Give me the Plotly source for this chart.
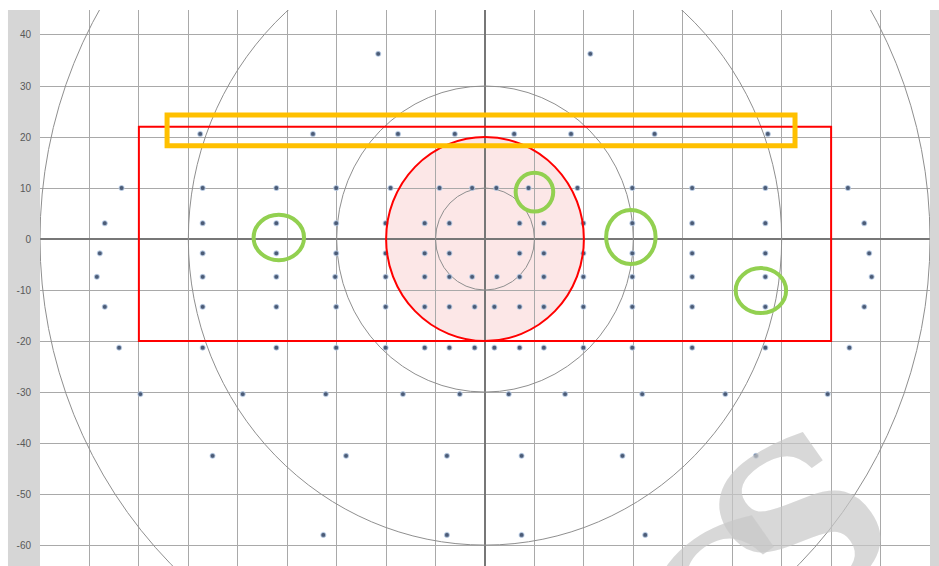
import plotly.graph_objects as go

# Test-point rows: each row's vertical position and the horizontal positions of its points
row_y = [36.3, 20.6, 10.0, 3.1, -2.8, -7.4, -13.3, -21.3, -30.4, -42.5, -58.0]
row_x = [
    [-21.6, 21.3],
    [-57.6, -34.8, -17.6, -6.1, 5.9, 17.4, 34.3, 57.2],
    [-73.5, -57.1, -42.2, -30.1, -19.1, -9.2, -2.6, 2.3, 8.8, 18.7, 29.8, 41.9, 56.7, 73.4],
    [-76.9, -57.1, -42.2, -30.1, -20.1, -12.2, -7.2, 7.0, 11.9, 19.9, 29.8, 41.9, 56.7, 76.7],
    [-77.9, -57.1, -42.2, -30.1, -20.1, -12.2, -7.2, 7.0, 11.9, 19.9, 29.8, 41.9, 56.7, 77.7],
    [-78.5, -57.1, -42.2, -30.3, -20.1, -12.2, -7.2, -2.6, 2.4, 7.0, 11.9, 19.9, 29.8, 41.9, 56.7, 78.2],
    [-76.9, -57.1, -42.2, -30.1, -20.1, -12.2, -7.2, -2.1, 1.9, 7.0, 11.9, 19.9, 29.8, 41.9, 56.7, 76.7],
    [-74.0, -57.1, -42.2, -30.1, -20.1, -12.2, -7.2, -2.1, 1.9, 7.0, 11.9, 19.9, 29.8, 41.9, 56.7, 73.7],
    [-69.7, -49.0, -32.2, -16.6, -5.1, 4.8, 16.2, 31.8, 48.6, 69.3],
    [-55.1, -28.1, -7.7, 7.4, 27.8, 54.8],
    [-32.7, -7.7, 7.4, 32.4],
]

# Concentric eccentricity rings (degrees)
ring_radii = [10, 30, 60, 90]
# Central highlighted zone radius
central_radius = 20
# Tested rectangle [x0, x1, y0, y1]
test_box = [-70, 70, -20, 22]
# Upper band [x0, x1, y0, y1]
upper_band = [-64.3, 62.7, 18.3, 24.3]
# Marked points: centre x, centre y, half-width, half-height
marks_cx = [-41.7, 10.0, 29.5, 55.8]
marks_cy = [0.3, 9.2, 0.4, -10.1]
marks_rx = [5.1, 3.8, 5.0, 5.1]
marks_ry = [4.45, 3.8, 5.3, 4.4]

y_ticks = [-60, -50, -40, -30, -20, -10, 0, 10, 20, 30, 40]

xs, ys = [], []
for yv, xl in zip(row_y, row_x):
    xs.extend(xl)
    ys.extend([yv] * len(xl))

fig = go.Figure()
fig.add_trace(go.Scatter(
    x=xs, y=ys, mode="markers",
    marker=dict(size=5, color="#4b5b76",
                line=dict(width=1.2, color="rgba(190,210,235,0.7)")),
    hoverinfo="skip", showlegend=False,
))

shapes = []
# grey side strips
shapes.append(dict(type="rect", xref="paper", yref="paper", x0=-0.036, x1=0, y0=0, y1=1,
                   fillcolor="#d6d6d6", line=dict(width=0), layer="below"))
shapes.append(dict(type="rect", xref="paper", yref="paper", x0=1, x1=1.012, y0=0, y1=1,
                   fillcolor="#d6d6d6", line=dict(width=0), layer="below"))
# pink central zone (under the grid)
shapes.append(dict(type="circle", xref="x", yref="y",
                   x0=-central_radius, x1=central_radius, y0=-central_radius, y1=central_radius,
                   fillcolor="rgba(250,215,215,0.6)", line=dict(width=0), layer="below"))
# rings
for r in ring_radii:
    shapes.append(dict(type="circle", xref="x", yref="y", x0=-r, x1=r, y0=-r, y1=r,
                       line=dict(color="#8f8f8f", width=1), layer="between"))
# red outline of central zone
shapes.append(dict(type="circle", xref="x", yref="y",
                   x0=-central_radius, x1=central_radius, y0=-central_radius, y1=central_radius,
                   line=dict(color="#ff0000", width=2), layer="above"))
# red test rectangle
shapes.append(dict(type="rect", xref="x", yref="y",
                   x0=test_box[0], x1=test_box[1], y0=test_box[2], y1=test_box[3],
                   line=dict(color="#ff0000", width=2), layer="above"))
# orange band
shapes.append(dict(type="rect", xref="x", yref="y",
                   x0=upper_band[0], x1=upper_band[1], y0=upper_band[2], y1=upper_band[3],
                   line=dict(color="#ffc000", width=5), layer="above"))
# green marks
for cx, cy, rx, ry in zip(marks_cx, marks_cy, marks_rx, marks_ry):
    shapes.append(dict(type="circle", xref="x", yref="y",
                       x0=cx - rx, x1=cx + rx, y0=cy - ry, y1=cy + ry,
                       line=dict(color="#92d050", width=4), layer="above"))

wm_font = dict(family="DejaVu Serif", size=215, color="rgba(200,200,200,0.7)", weight="bold")
fig.update_layout(
    width=939, height=566,
    margin=dict(l=40, r=9, t=10, b=0),
    paper_bgcolor="white", plot_bgcolor="white",
    shapes=shapes,
    annotations=[
        dict(text="S", xref="paper", yref="paper", x=0.855, y=0.075,
             xanchor="center", yanchor="middle", showarrow=False, textangle=-35,
             font=wm_font),
        dict(text="C", xref="paper", yref="paper", x=0.78, y=-0.085,
             xanchor="center", yanchor="middle", showarrow=False, textangle=-35,
             font=wm_font),
    ],
)
fig.update_xaxes(
    range=[-90, 90], dtick=10, tick0=0, showticklabels=False,
    showgrid=True, gridcolor="#a9a9a9", gridwidth=1,
    zeroline=True, zerolinecolor="#777777", zerolinewidth=1.5,
    showline=False, fixedrange=True,
)
fig.update_yaxes(
    range=[-64.1, 44.9], tickvals=y_ticks, ticktext=[str(v) for v in y_ticks],
    showgrid=True, gridcolor="#a9a9a9", gridwidth=1,
    zeroline=True, zerolinecolor="#777777", zerolinewidth=1.5,
    showline=False, ticks="", ticklabelstandoff=8,
    tickfont=dict(family="Liberation Sans", size=10, color="#595959"),
    fixedrange=True,
)

fig.write_html("out.html")
